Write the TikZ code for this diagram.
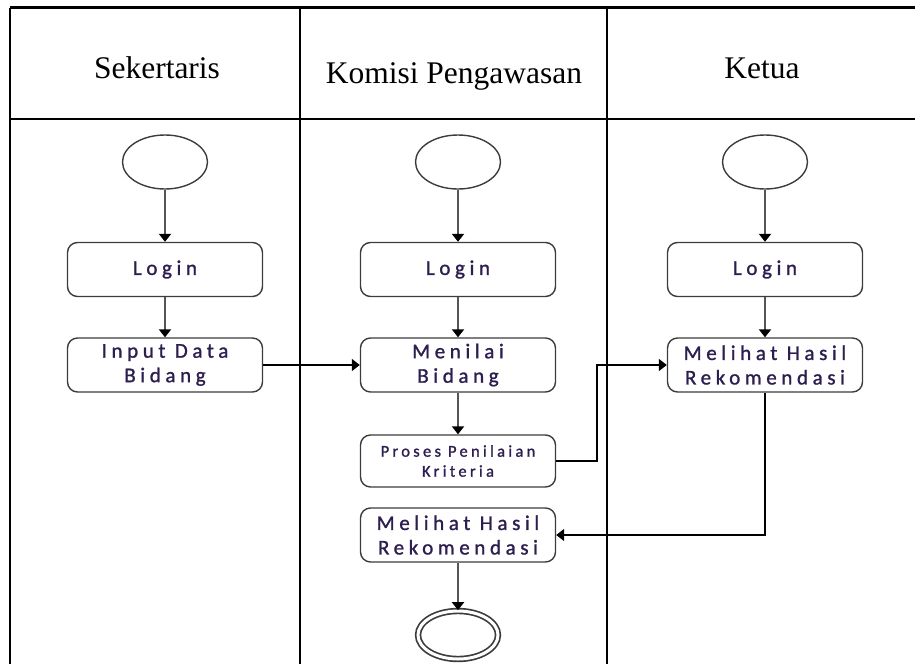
\documentclass[tikz,border=0pt]{standalone}
\usepackage{fontspec}
\setmainfont{Liberation Serif}
\newfontfamily\boxfont[LetterSpace=22,FakeBold=1.2]{Carlito}
\newfontfamily\smallboxfont[LetterSpace=20,FakeBold=1.2]{Carlito}
\usetikzlibrary{arrows.meta,shapes.geometric}
\definecolor{boxgray}{RGB}{60,60,60}
\definecolor{flowgray}{RGB}{85,85,85}
\definecolor{txt}{RGB}{45,30,80}
\tikzset{
  lane/.style={line width=2.2pt, draw=black},
  head/.style={font=\fontsize{31.5}{36}\selectfont, inner sep=0pt},
  act/.style={draw=boxgray, line width=1.4pt, rounded corners=10pt,
    minimum width=195pt, minimum height=54pt, align=center, inner sep=0pt,
    text=txt, font=\boxfont\fontsize{21}{24.5}\selectfont},
  smallact/.style={act, font=\smallboxfont\fontsize{16.5}{20}\selectfont},
  startnode/.style={draw=boxgray, ellipse, line width=1.4pt,
    minimum width=85pt, minimum height=54pt, inner sep=0pt},
  endnode/.style={draw=boxgray, ellipse, line width=1.7pt, double=white,
    double distance=3pt, minimum width=80pt, minimum height=48pt, inner sep=0pt},
  flow/.style={draw=flowgray, line width=2.4pt,
    -{Triangle[width=12pt,length=8pt,color=black]}},
  link/.style={draw=black, line width=1.5pt,
    -{Triangle[width=12pt,length=8pt,color=black]}},
}
\begin{document}
\begin{tikzpicture}[x=1pt,y=-1pt]
\useasboundingbox (0,0) rectangle (915,664);

% swimlane grid
\draw[lane] (10,7.5) -- (915,7.5);
\draw[lane] (10,119) -- (915,119);
\draw[lane] (10,7.5) -- (10,664);
\draw[lane] (300,7.5) -- (300,664);
\draw[lane] (607,7.5) -- (607,664);

% lane titles
\node[head] (hA) at (157,68) {Sekertaris};
\node[head] (hB) at (454,76) {Komisi Pengawasan};
\node[head] (hC) at (762,68) {Ketua};

% Sekertaris
\node[startnode] (sA) at (165,162) {};
\node[act] (loginA) at (165,269.5) {Login};
\node[act] (input) at (165,365) {Input Data\\Bidang};

% Komisi Pengawasan
\node[startnode] (sB) at (458,162) {};
\node[act] (loginB) at (458,269.5) {Login};
\node[act] (menilai) at (458,365) {Menilai\\Bidang};
\node[smallact, minimum height=52pt] (proses) at (458,461) {Proses Penilaian\\Kriteria};
\node[act] (lihatB) at (458,535) {Melihat Hasil\\Rekomendasi};
\node[endnode] (end) at (458,635) {};

% Ketua
\node[startnode] (sC) at (765,162) {};
\node[act] (loginC) at (765,269.5) {Login};
\node[act] (lihatC) at (765,365) {Melihat Hasil\\Rekomendasi};

% flows inside lanes
\draw[flow] (sA) -- (loginA);
\draw[flow] (loginA) -- (input);
\draw[flow] (sB) -- (loginB);
\draw[flow] (loginB) -- (menilai);
\draw[flow] (menilai) -- (proses);
\draw[flow] (lihatB) -- (end);
\draw[flow] (sC) -- (loginC);
\draw[flow] (loginC) -- (lihatC);

% flows across lanes
\draw[link] (input.east) -- (menilai.west);
\draw[link] (proses.east) -| (597,365) -- (lihatC.west);
\draw[link] (lihatC.south) |- (lihatB.east);
\end{tikzpicture}
\end{document}
